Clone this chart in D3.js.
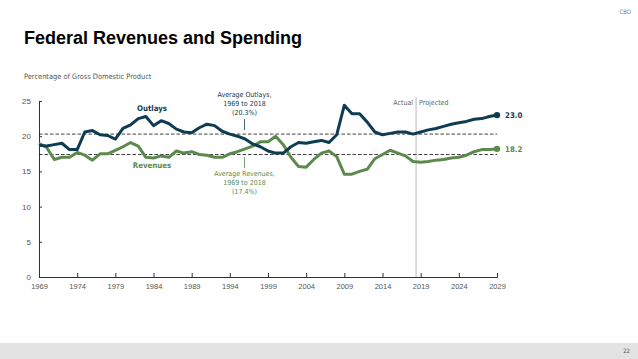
<!DOCTYPE html>
<html><head><meta charset="utf-8">
<script src="https://cdn.jsdelivr.net/npm/d3@7"></script>
<style>
html,body{margin:0;padding:0;background:#fff;}
svg{display:block;font-family:"Liberation Sans Narrow","DejaVu Sans Condensed","Liberation Sans",Arial,sans-serif;}
</style></head>
<body>
<svg id="c" width="638" height="359"></svg>
<script>
const years = [1969,1970,1971,1972,1973,1974,1975,1976,1977,1978,1979,1980,1981,1982,1983,1984,1985,1986,1987,1988,1989,1990,1991,1992,1993,1994,1995,1996,1997,1998,1999,2000,2001,2002,2003,2004,2005,2006,2007,2008,2009,2010,2011,2012,2013,2014,2015,2016,2017,2018,2019,2020,2021,2022,2023,2024,2025,2026,2027,2028,2029];
const outlays = [18.7,18.6,18.8,19.0,18.1,18.1,20.6,20.8,20.2,20.1,19.6,21.1,21.6,22.5,22.8,21.5,22.2,21.8,21.0,20.6,20.5,21.2,21.7,21.5,20.7,20.3,20.0,19.6,18.9,18.5,17.9,17.6,17.6,18.5,19.1,19.0,19.2,19.4,19.1,20.2,24.4,23.2,23.2,22.0,20.6,20.2,20.4,20.6,20.6,20.3,20.6,20.9,21.1,21.4,21.7,21.9,22.1,22.4,22.5,22.8,23.0];
const revenues = [19.0,18.4,16.7,17.0,17.0,17.7,17.3,16.6,17.5,17.5,18.0,18.5,19.1,18.6,17.0,16.9,17.2,17.0,17.9,17.6,17.8,17.4,17.3,17.0,17.0,17.5,17.8,18.2,18.6,19.2,19.2,20.0,18.8,17.0,15.7,15.6,16.7,17.6,17.9,17.1,14.6,14.6,15.0,15.3,16.8,17.4,18.0,17.6,17.2,16.4,16.3,16.4,16.6,16.7,16.9,17.0,17.3,17.8,18.1,18.1,18.2];
const xTicks = [1969,1974,1979,1984,1989,1994,1999,2004,2009,2014,2019,2024,2029];
const yTicks = [0,5,10,15,20,25];
const avgOutlays = 20.3, avgRevenues = 17.4;
const lastActual = 2018;

const navy = "#0e3c52", green = "#5c8a4c";
const svg = d3.select("#c");
const x = d3.scaleLinear().domain([1969,2029]).range([39,497]);
const y = d3.scaleLinear().domain([0,25]).range([277,101]);

// footer band
svg.append("rect").attr("x",0).attr("y",343).attr("width",638).attr("height",16).attr("fill","#e3e3e3");
svg.append("text").attr("x",630).attr("y",353).attr("text-anchor","end").attr("font-size",6).attr("fill","#555").text("22");
svg.append("text").attr("x",631).attr("y",14).attr("text-anchor","end").attr("font-size",6).attr("fill","#777").text("CBO");

svg.append("text").attr("x",24).attr("y",44).attr("font-family","'Liberation Sans',Arial,sans-serif")
  .attr("font-weight","bold").attr("font-size",18).attr("fill","#000").text("Federal Revenues and Spending");
svg.append("text").attr("x",24).attr("y",79).attr("font-size",7.4).attr("fill","#555").text("Percentage of Gross Domestic Product");

// axes
const yAxis = d3.axisLeft(y).tickValues(yTicks).tickSize(-3).tickPadding(8);
const gy = svg.append("g").attr("transform",`translate(${x(1969)},0)`).call(yAxis);
gy.select(".domain").attr("stroke","#333");
gy.selectAll(".tick line").attr("stroke","#333");
gy.selectAll("text").attr("font-size",8).attr("fill","#555").attr("font-family","'Liberation Sans',Arial,sans-serif");

const xAxis = d3.axisBottom(x).tickValues(xTicks).tickFormat(d3.format("d")).tickSize(-4).tickPadding(7);
const gx = svg.append("g").attr("transform",`translate(0,${y(0)})`).call(xAxis);
gx.select(".domain").attr("stroke","#333");
gx.selectAll(".tick line").attr("stroke","#333");
gx.selectAll("text").attr("font-size",7.5).attr("fill","#555").attr("font-family","'Liberation Sans',Arial,sans-serif");

// actual/projected divider
const xd = x(lastActual + 0.4);
svg.append("line").attr("x1",xd).attr("x2",xd).attr("y1",y(25)-4).attr("y2",y(0)).attr("stroke","#999").attr("stroke-width",0.7);
svg.append("text").attr("x",xd-3).attr("y",105).attr("text-anchor","end").attr("font-size",7).attr("fill","#666").text("Actual");
svg.append("text").attr("x",xd+3).attr("y",105).attr("font-size",7).attr("fill","#666").text("Projected");

// averages
[avgOutlays, avgRevenues].forEach(v => {
  svg.append("line").attr("x1",x(1969)).attr("x2",x(2029)).attr("y1",y(v)).attr("y2",y(v))
    .attr("stroke","#111").attr("stroke-width",0.8).attr("stroke-dasharray","3.5,2");
});

const line = d3.line().x((d,i)=>x(years[i])).y(d=>y(d));
svg.append("path").datum(revenues).attr("d",line).attr("fill","none").attr("stroke",green).attr("stroke-width",3).attr("stroke-linejoin","round");
svg.append("path").datum(outlays).attr("d",line).attr("fill","none").attr("stroke",navy).attr("stroke-width",3).attr("stroke-linejoin","round");

const n = years.length-1;
svg.append("circle").attr("cx",x(years[n])).attr("cy",y(outlays[n])).attr("r",3.2).attr("fill",navy);
svg.append("circle").attr("cx",x(years[n])).attr("cy",y(revenues[n])).attr("r",3.2).attr("fill",green);
svg.append("text").attr("x",x(years[n])+8).attr("y",y(outlays[n])+3).attr("font-size",7.8).attr("font-weight","bold").attr("fill",navy).text(outlays[n].toFixed(1));
svg.append("text").attr("x",x(years[n])+8).attr("y",y(revenues[n])+3).attr("font-size",7.8).attr("font-weight","bold").attr("fill",green).text(revenues[n].toFixed(1));

// series labels
svg.append("text").attr("x",152).attr("y",111).attr("text-anchor","middle").attr("font-size",7.8).attr("font-weight","bold").attr("fill",navy).text("Outlays");
svg.append("text").attr("x",152).attr("y",168).attr("text-anchor","middle").attr("font-size",7.8).attr("font-weight","bold").attr("fill",green).text("Revenues");

// average annotations
const ax = 244.5;
const ao = svg.append("text").attr("text-anchor","middle").attr("font-size",7).attr("fill",navy);
["Average Outlays,","1969 to 2018","(20.3%)"].forEach((t,i)=>ao.append("tspan").attr("x",ax).attr("y",97+i*9).text(t));
svg.append("line").attr("x1",ax).attr("x2",ax).attr("y1",119).attr("y2",130).attr("stroke",navy).attr("stroke-width",0.8);
const ar = svg.append("text").attr("text-anchor","middle").attr("font-size",7).attr("fill",green);
["Average Revenues,","1969 to 2018","(17.4%)"].forEach((t,i)=>ar.append("tspan").attr("x",ax).attr("y",176+i*9).text(t));
svg.append("line").attr("x1",ax).attr("x2",ax).attr("y1",157).attr("y2",168).attr("stroke",green).attr("stroke-width",0.8);
</script>
</body></html>
